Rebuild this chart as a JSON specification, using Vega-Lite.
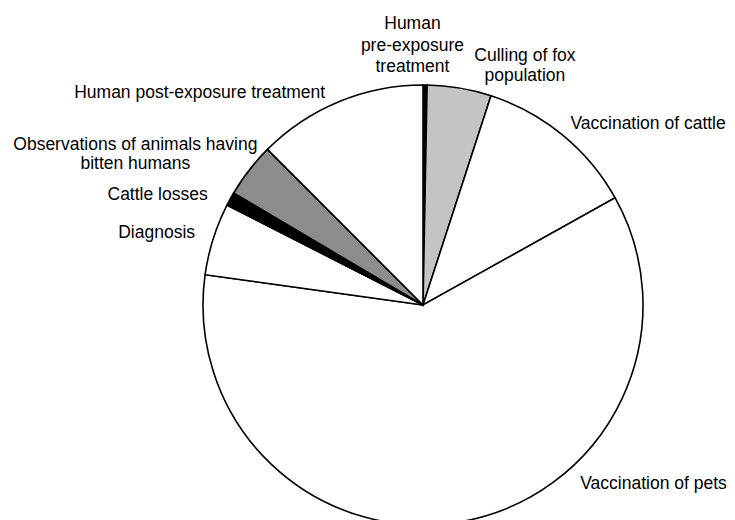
{
  "$schema": "https://vega.github.io/schema/vega-lite/v6.json",
  "width": 440,
  "height": 430,
  "autosize": "none",
  "padding": {"left": 203, "top": 90, "right": 92, "bottom": 0},
  "background": "white",
  "config": {"view": {"stroke": null}, "text": {"font": "Liberation Sans", "fontSize": 17.5, "color": "black", "lineBreak": "\n"}},
  "data": {
    "values": [
      {"idx": 1, "category": "Human pre-exposure treatment", "label": "Human\npre-exposure\ntreatment", "value": 0.3},
      {"idx": 2, "category": "Culling of fox population", "label": "Culling of fox\npopulation", "value": 4.7},
      {"idx": 3, "category": "Vaccination of cattle", "label": "Vaccination of cattle", "value": 11.9},
      {"idx": 4, "category": "Vaccination of pets", "label": "Vaccination of pets", "value": 60.3},
      {"idx": 5, "category": "Diagnosis", "label": "Diagnosis", "value": 5.3},
      {"idx": 6, "category": "Cattle losses", "label": "Cattle losses", "value": 1.0},
      {"idx": 7, "category": "Observations of animals having bitten humans", "label": "Observations of animals having\nbitten humans", "value": 4.0},
      {"idx": 8, "category": "Human post-exposure treatment", "label": "Human post-exposure treatment", "value": 12.5}
    ]
  },
  "encoding": {
    "theta": {"field": "value", "type": "quantitative", "stack": true},
    "order": {"field": "idx", "type": "quantitative"}
  },
  "layer": [
    {
      "mark": {"type": "arc", "outerRadius": 220, "stroke": "black", "strokeWidth": 1.6},
      "encoding": {
        "color": {
          "field": "category", "type": "nominal", "legend": null,
          "scale": {
            "domain": ["Human pre-exposure treatment", "Culling of fox population", "Vaccination of cattle", "Vaccination of pets", "Diagnosis", "Cattle losses", "Observations of animals having bitten humans", "Human post-exposure treatment"],
            "range": ["#000000", "#c4c4c4", "#ffffff", "#ffffff", "#ffffff", "#000000", "#8c8c8c", "#ffffff"]
          }
        }
      }
    },
    {
      "mark": {"type": "text", "radius": 259, "align": "center", "baseline": "middle", "dx": -13, "dy": -22, "lineHeight": 21.5},
      "encoding": {"text": {"condition": {"test": "datum.idx === 1", "field": "label"}, "value": ""}}
    },
    {
      "mark": {"type": "text", "radius": 259, "align": "center", "baseline": "middle", "dx": 59, "dy": 6, "lineHeight": 20},
      "encoding": {"text": {"condition": {"test": "datum.idx === 2", "field": "label"}, "value": ""}}
    },
    {
      "mark": {"type": "text", "radius": 240, "align": "left", "baseline": "middle", "dx": -5, "dy": 4.5},
      "encoding": {"text": {"condition": {"test": "datum.idx === 3", "field": "label"}, "value": ""}}
    },
    {
      "mark": {"type": "text", "radius": 240, "align": "left", "baseline": "middle", "dx": 113, "dy": -57},
      "encoding": {"text": {"condition": {"test": "datum.idx === 4", "field": "label"}, "value": ""}}
    },
    {
      "mark": {"type": "text", "radius": 240, "align": "right", "baseline": "middle", "dx": 1, "dy": 0},
      "encoding": {"text": {"condition": {"test": "datum.idx === 5", "field": "label"}, "value": ""}}
    },
    {
      "mark": {"type": "text", "radius": 240, "align": "right", "baseline": "middle", "dx": -5, "dy": 6},
      "encoding": {"text": {"condition": {"test": "datum.idx === 6", "field": "label"}, "value": ""}}
    },
    {
      "mark": {"type": "text", "radius": 240, "align": "center", "baseline": "middle", "dx": -98, "dy": -12.5, "lineHeight": 18.5},
      "encoding": {"text": {"condition": {"test": "datum.idx === 7", "field": "label"}, "value": ""}}
    },
    {
      "mark": {"type": "text", "radius": 240, "align": "right", "baseline": "middle", "dx": -6, "dy": 10},
      "encoding": {"text": {"condition": {"test": "datum.idx === 8", "field": "label"}, "value": ""}}
    }
  ]
}
